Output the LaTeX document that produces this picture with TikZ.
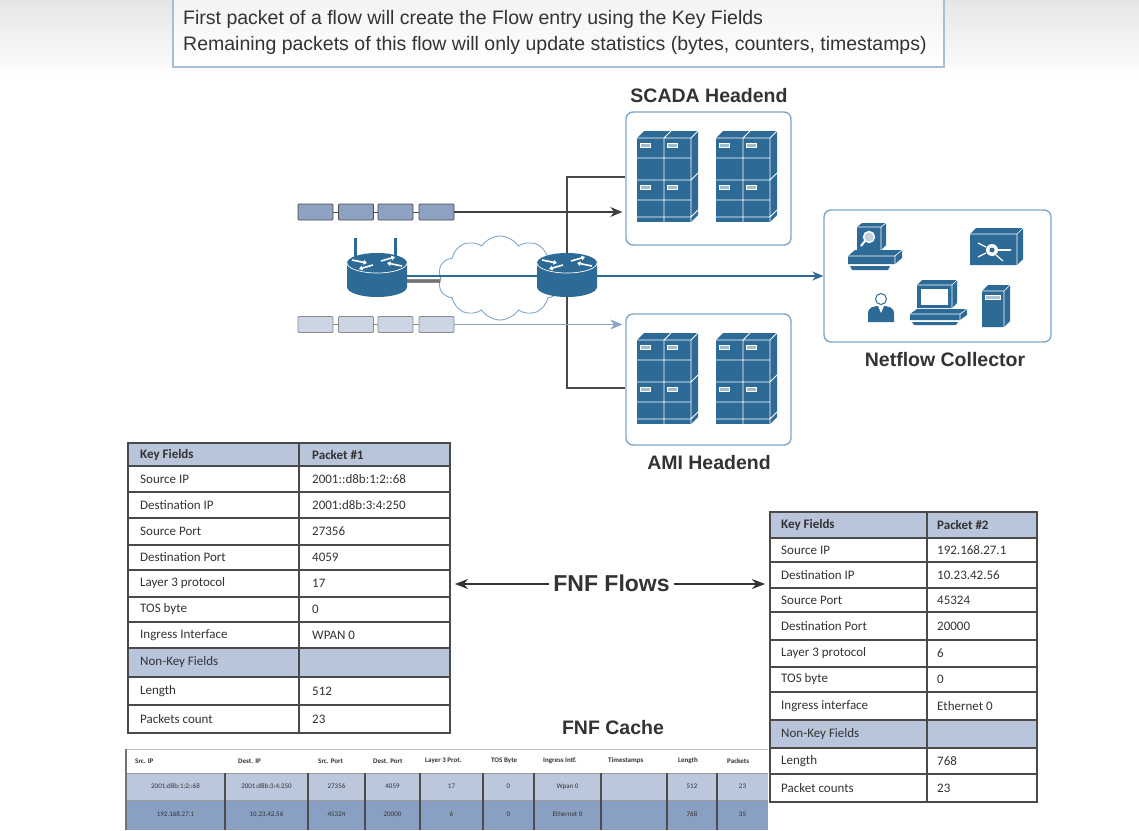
\documentclass[tikz,border=0pt]{standalone}
\usepackage{fontspec}
\setmainfont{Liberation Sans}
\newfontfamily\tabfont{Carlito}
\usetikzlibrary{shapes.symbols,arrows.meta,calc}

\definecolor{ciscoblue}{HTML}{2D6A96}
\definecolor{boxblue}{HTML}{7FA7CB}
\definecolor{topbox}{HTML}{A9BDD3}
\definecolor{cloudblue}{HTML}{7FA6C9}
\definecolor{pktdark}{HTML}{8DA2C2}
\definecolor{pktlight}{HTML}{CBD5E4}
\definecolor{lightarrow}{HTML}{8AA3C6}
\definecolor{hdrfill}{HTML}{B8C5DB}
\definecolor{cacheA}{HTML}{BAC7DC}
\definecolor{cacheB}{HTML}{8AA0C2}
\definecolor{txtgray}{HTML}{333333}
\definecolor{linkgray}{HTML}{4A4A4A}

\tikzset{
  hbox/.style={draw=boxblue, line width=1.4pt, rounded corners=7pt, fill=white, inner sep=0pt},
  heading/.style={font=\bfseries\fontsize{19.5}{22}\selectfont, text=txtgray},
  pktd/.style={draw=black!70, line width=0.9pt, fill=pktdark, minimum width=35pt, minimum height=16pt, inner sep=0pt, rounded corners=1pt},
  pktl/.style={draw=black!45, line width=0.9pt, fill=pktlight, minimum width=35pt, minimum height=16pt, inner sep=0pt, rounded corners=1pt},
  tline/.style={draw=linkgray, line width=1.2pt},
  tabtext/.style={font=\tabfont\fontsize{13}{15}\selectfont, text=txtgray, inner sep=0pt, anchor=west},
  cachetext/.style={font=\tabfont\fontsize{7}{8}\selectfont, text=txtgray, inner sep=0pt},
  cachehead/.style={font=\tabfont\bfseries\fontsize{7}{8}\selectfont, text=txtgray, inner sep=0pt, anchor=west},
  link/.style={draw=linkgray, line width=2.4pt},
  rack/.pic={
    \fill[ciscoblue] (0,0) rectangle (54,84);
    \fill[ciscoblue] (0,0)--(7,-7)--(61,-7)--(54,0)--cycle;
    \fill[ciscoblue] (54,0)--(61,-7)--(61,77)--(54,84)--cycle;
    \draw[white, line width=0.8pt] (0,0)--(54,0)--(61,-7) (54,0)--(54,84)
      (27,0)--(27,84) (27,0)--(34,-7) (0,42)--(54,42)--(61,35)
      (0,20)--(54,20) (0,62)--(54,62) (0,79)--(54,79)--(61,72);
    \foreach \sx in {3,30}
      \foreach \sy in {5,47}
        \draw[white, fill=white!55!ciscoblue, line width=0.6pt] (\sx,\sy) rectangle ++(10,4);
  },
  router/.pic={
    \fill[ciscoblue] (-30,0) -- (-30,24) arc[start angle=180, end angle=0, x radius=30, y radius=10] -- (30,0) -- cycle;
    \fill[ciscoblue] (0,0) ellipse[x radius=30, y radius=10];
    \draw[white, line width=0.7pt] (-30,0) arc[start angle=180, end angle=0, x radius=30, y radius=10];
    \begin{scope}[white, line width=1.6pt, -{Triangle[length=3.5pt, width=4.5pt]}]
      \draw (-25,-3) -- (-10,0);
      \draw (25,3) -- (10,0);
      \draw (4,-2) -- (18,-6);
      \draw (-4,2) -- (-18,6);
    \end{scope}
  }
}

\begin{document}
\begin{tikzpicture}[x=1pt, y=-1pt]
\useasboundingbox (0,0) rectangle (1139,830);
\fill[white] (0,0) rectangle (1139,830);
\shade[top color=black!10, bottom color=white] (0,0) rectangle (1139,78);

% note box at the top
\node[draw=topbox, line width=1.2pt, top color=black!5, bottom color=white, minimum width=771pt, minimum height=72pt, inner sep=0pt] (note) at (558.5,31) {};
\node[font=\fontsize{19.5}{25}\selectfont, text=txtgray, anchor=base west, inner sep=0pt] (note1) at (183,24) {First packet of a flow will create the Flow entry using the Key Fields};
\node[font=\fontsize{19.5}{25}\selectfont, text=txtgray, anchor=base west, inner sep=0pt] (note2) at (183,50) {Remaining packets of this flow will only update statistics (bytes, counters, timestamps)};

% headend and collector boxes
\node[hbox, minimum width=165pt, minimum height=133pt] (scada) at (708.5,178.5) {};
\node[hbox, minimum width=165pt, minimum height=131pt] (ami) at (708.5,379.5) {};
\node[hbox, minimum width=227pt, minimum height=132pt] (nfc) at (937.5,276) {};
\node[heading] (scadalbl) at (709,96) {SCADA Headend};
\node[heading] (amilbl) at (709,463) {AMI Headend};
\node[heading] (nfclbl) at (945,360) {Netflow Collector};

% server racks
\pic at (637,138) {rack};
\pic at (716,138) {rack};
\pic at (637,340) {rack};
\pic at (716,340) {rack};

% collector devices: workstation with lens
\fill[ciscoblue] (857,227)--(862,223)--(886,223)--(886,245)--(881,250)--(857,250)--cycle;
\draw[white, line width=0.6pt] (857,227)--(881,227)--(886,223) (881,227)--(881,250);
\draw[white, fill=white!70!ciscoblue, line width=1.4pt] (869,237) circle (5.5);
\draw[white, line width=2pt] (865,241)--(861,246);
\fill[ciscoblue] (848,256)--(855,250)--(902,250)--(902,258)--(895,264)--(848,264)--cycle;
\draw[white, line width=0.6pt] (848,256)--(895,256)--(902,250) (895,256)--(895,264);
\fill[ciscoblue] (850,266)--(890,266)--(888,270)--(852,270)--cycle;
% analysis appliance
\fill[ciscoblue] (970,234)--(976,228)--(1023,228)--(1023,259)--(1017,265)--(970,265)--cycle;
\draw[white, line width=0.6pt] (970,234)--(1017,234)--(1023,228) (1017,234)--(1017,265);
\fill[white] (992,250) circle (6);
\fill[ciscoblue] (992,250) circle (2.5);
\draw[white, line width=1.2pt, -{Stealth[length=3pt]}] (998,250)--(1012,250);
\draw[white, line width=1.2pt] (978,243)--(986,247) (978,257)--(986,253) (996,255)--(1003,261);
% user
\fill[ciscoblue] (868,322) -- (868,314) .. controls (868,307) and (873,306) .. (881,306) .. controls (889,306) and (894,307) .. (894,314) -- (894,322) -- cycle;
\fill[white] (878,306)--(881,313)--(884,306)--cycle;
\draw[ciscoblue, fill=white, line width=1pt] (881,299) circle (5.5);
% PC
\fill[ciscoblue] (917,285)--(922,280)--(957,280)--(957,303)--(952,308)--(917,308)--cycle;
\draw[white, line width=0.6pt] (917,285)--(952,285)--(957,280) (952,285)--(952,308);
\fill[white] (921,289) rectangle (948,305);
\fill[ciscoblue] (910,314)--(917,309)--(967,309)--(967,315)--(960,320)--(910,320)--cycle;
\draw[white, line width=0.6pt] (910,314)--(960,314)--(967,309) (960,314)--(960,320);
\fill[ciscoblue] (912,322)--(958,322)--(956,325)--(914,325)--cycle;
% server tower
\fill[ciscoblue] (982,291)--(988,285)--(1010,285)--(1010,321)--(1004,327)--(982,327)--cycle;
\draw[white, line width=0.6pt] (982,291)--(1004,291)--(1010,285) (1004,291)--(1004,327);
\draw[white, fill=white!60!ciscoblue, line width=0.6pt] (985,295) rectangle (1000,299);

% WAN cloud
\node[cloud, cloud puffs=10, cloud puff arc=115, aspect=1.5, draw=cloudblue, fill=white, line width=0.9pt, minimum width=124pt, minimum height=84pt, inner sep=0pt] (cloud) at (500,278) {};

% routers (anchors for the links)
\node[inner sep=0pt, minimum width=60pt, minimum height=44pt] (r1) at (377,276) {};
\node[inner sep=0pt, minimum width=60pt, minimum height=44pt] (r2) at (567,276) {};
\coordinate (scadaL) at (scada.west |- 0,177);
\coordinate (amiL) at (ami.west |- 0,388);

% links
\draw[link] (scadaL) -| (r2.center) |- (amiL);
\draw[draw=linkgray, line width=3.2pt] ($(r1.east)+(0,5)$) -- ($(cloud.west)+(0,3)$);
\draw[draw=black!25, line width=0.8pt] ($(r1.east)+(0,5)$) -- ($(cloud.west)+(0,3)$);
\draw[ciscoblue, line width=1.4pt, -{Stealth[length=11pt, width=9pt]}] (r1.east) -- (nfc.west);

% routers
\draw[ciscoblue, line width=3pt] (355,260) -- (355,238) (395,260) -- (395,238);
\pic at (377,263) {router};
\pic at (567,263) {router};

% packet trains
\node[pktd] (t1) at (315.5,212) {};
\node[pktd] (t2) at (356,212) {};
\node[pktd] (t3) at (395.5,212) {};
\node[pktd] (t4) at (436.5,212) {};
\draw[black!70, line width=0.9pt] (t1) -- (t2) (t2) -- (t3) (t3) -- (t4);
\draw[black!75, line width=1.3pt, shorten >=3pt, -{Stealth[length=12pt, width=10pt]}] (t4.east) -- (scada.west |- t4.east);
\node[pktl] (b1) at (315.5,324.5) {};
\node[pktl] (b2) at (356,324.5) {};
\node[pktl] (b3) at (395.5,324.5) {};
\node[pktl] (b4) at (436.5,324.5) {};
\draw[black!45, line width=0.9pt] (b1) -- (b2) (b2) -- (b3) (b3) -- (b4);
\draw[lightarrow, line width=1.3pt, shorten >=3pt, -{Stealth[length=12pt, width=10pt]}] (b4.east) -- (ami.west |- b4.east);

% packet #1 table
\foreach \ya/\yb/\k/\v/\bg in {
  443/466/{\bfseries Key Fields}/{\bfseries Packet \#1}/hdrfill,
  466/492/Source IP/2001::d8b:1:2::68/white,
  492/518/Destination IP/2001:d8b:3:4:250/white,
  518/545/Source Port/27356/white,
  545/570/Destination Port/4059/white,
  570/597/Layer 3 protocol/17/white,
  597/622/TOS byte/0/white,
  622/648/Ingress Interface/WPAN 0/white,
  648/677/Non-Key Fields/{}/hdrfill,
  677/705/Length/512/white,
  705/733/Packets count/23/white}{
  \draw[tline, fill=\bg] (128,\ya) rectangle (299,\yb);
  \draw[tline, fill=\bg] (299,\ya) rectangle (450,\yb);
  \node[tabtext] (LK\ya) at (140,{(\ya+\yb)/2}) {\k};
  \node[tabtext] (LV\ya) at (312,{(\ya+\yb)/2}) {\v};
}

% flow label with arrows
\coordinate (Ledge) at (450,584);
\coordinate (Redge) at (770,584);
\node[heading, font=\bfseries\fontsize{23}{26}\selectfont, inner sep=4pt] (flows) at (611.5,583) {FNF Flows};
\draw[txtgray, line width=1.2pt, shorten >=5pt, -{Stealth[length=13pt, width=10pt]}] (flows.west |- Ledge) -- (Ledge);
\draw[txtgray, line width=1.2pt, shorten >=5pt, -{Stealth[length=13pt, width=10pt]}] (flows.east |- Redge) -- (Redge);

% cache table
\node[heading] (cachelbl) at (613,728) {FNF Cache};
\fill[white] (126,749) rectangle (768,773);
\fill[cacheA] (126,773) rectangle (768,800);
\fill[cacheB] (126,800) rectangle (768,830);
\draw[black!25, line width=1pt] (126,749) -- (768,749);
\draw[black!40, line width=1pt] (126,773) -- (768,773) (126,800) -- (768,800);
\draw[black!55, line width=1.2pt] (126,749) -- (126,830);
\foreach \x in {225,308,365,420,483,534,601,667,717}
  \draw[black!70, line width=1.5pt] (\x,773) -- (\x,830);
\foreach \x/\t [count=\i] in {135/Src. IP, 238/Dest. IP, 318/Src. Port, 373/Dest. Port, 425/Layer 3 Prot., 491/TOS Byte, 543/Ingress Intf., 608/Timestamps, 678/Length, 727/Packets}
  \node[cachehead] (CH\i) at (\x,761) {\t};
\foreach \x/\a/\b [count=\i] in {175.5/2001:d8b:1:2::68/192.168.27.1, 266.5/2001:d8b:3:4:250/10.23.42.56, 336.5/27356/45324, 392.5/4059/20000, 451.5/17/6, 508.5/0/0, 567.5/Wpan 0/Ethernet 0, 634/{}/{}, 692/512/768, 742.5/23/35}{
  \node[cachetext] (CA\i) at (\x,786.5) {\a};
  \node[cachetext] (CB\i) at (\x,814) {\b};
}

% packet #2 table
\foreach \ya/\yb/\k/\v/\bg in {
  512/538/{\bfseries Key Fields}/{\bfseries Packet \#2}/hdrfill,
  538/562/Source IP/192.168.27.1/white,
  562/588/Destination IP/10.23.42.56/white,
  588/612/Source Port/45324/white,
  612/640/Destination Port/20000/white,
  640/667/Layer 3 protocol/6/white,
  667/692/TOS byte/0/white,
  692/720/Ingress interface/Ethernet 0/white,
  720/748/Non-Key Fields/{}/hdrfill,
  748/774/Length/768/white,
  774/802/Packet counts/23/white}{
  \draw[tline, fill=\bg] (770,\ya) rectangle (927,\yb);
  \draw[tline, fill=\bg] (927,\ya) rectangle (1037,\yb);
  \node[tabtext] (RK\ya) at (781,{(\ya+\yb)/2}) {\k};
  \node[tabtext] (RV\ya) at (937,{(\ya+\yb)/2}) {\v};
}
\end{tikzpicture}
\end{document}
